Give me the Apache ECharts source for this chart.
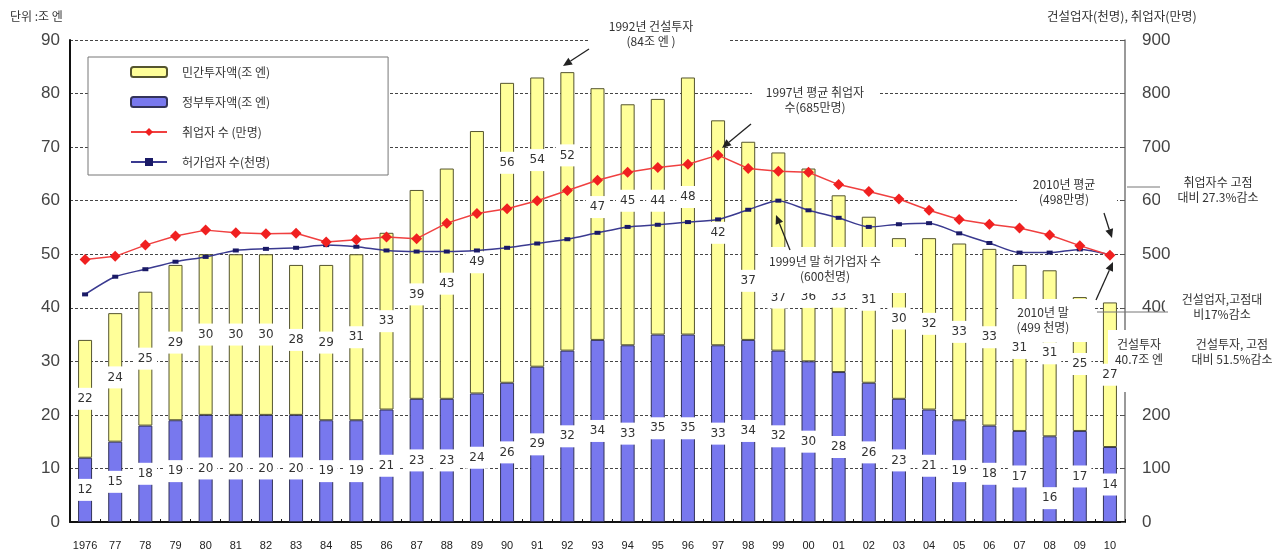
<!DOCTYPE html>
<html>
<head>
<meta charset="utf-8">
<script src="https://cdn.jsdelivr.net/npm/echarts@6/dist/echarts.min.js"></script>
<style>
  html, body { margin: 0; padding: 0; background: #fff; }
  #chart { width: 1284px; height: 553px; }
</style>
</head>
<body>
<div id="chart"></div>
<script>
// Years on the category axis (1976 … 2010)
const years = ['1976','77','78','79','80','81','82','83','84','85','86','87','88','89','90','91','92','93','94','95','96','97','98','99','00','01','02','03','04','05','06','07','08','09','10'];

// Construction investment, 조 엔
const publicInvest  = [12,15,18,19,20,20,20,20,19,19,21,23,23,24,26,29,32,34,33,35,35,33,34,32,30,28,26,23,21,19,18,17,16,17,14];
const privateInvest = [22,24,25,29,30,30,30,28,29,31,33,39,43,49,56,54,52,47,45,44,48,42,37,37,36,33,31,30,32,33,33,31,31,25,27];

// Employed persons (만명) and licensed contractors (천명), right axis
const employed   = [490,496,517,534,545,540,538,539,523,527,532,529,558,576,585,600,619,638,653,662,668,685,660,655,653,630,617,603,582,565,556,549,536,516,498];
const contractors = [425,458,472,486,495,507,510,512,517,514,507,505,505,507,512,520,528,540,551,555,560,565,583,600,582,568,551,556,558,539,521,503,503,509,499];

// Axis tick values
const leftTicks  = { min: 0, max: 90, step: 10 };
const rightTicks = { min: 0, max: 900, step: 100 };

// Series names (legend)
const names = ['민간투자액(조 엔)', '정부투자액(조 엔)', '취업자 수 (만명)', '허가업자 수(천명)'];

// Label nudges (px) for value labels that sit away from the segment centre
const privateLabelShift = { '90': -70, '91': -62, '92': -56, '93': -7, '94': -24, '95': -16, '96': -9, '98': 40, '99': 46, '00': 32, '01': 13 };
const publicLabelShift  = { '08': 19 };

const NUM_FONT = 'DejaVu Sans';
const KR_FONT = '"Noto Sans CJK KR", sans-serif';

const barLabel = {
  show: true,
  position: 'inside',
  color: '#333',
  fontFamily: NUM_FONT,
  fontSize: 12,
  backgroundColor: '#fff',
  padding: [5, 4]
};

function withShift(values, shifts) {
  return values.map((v, i) => {
    const s = shifts[years[i]];
    return s ? { value: v, label: { offset: [0, s] } } : v;
  });
}

function arrow(x1, y1, x2, y2) {
  const a = Math.atan2(y2 - y1, x2 - x1);
  const L = 9, W = 4;
  const bx = x2 - L * Math.cos(a), by = y2 - L * Math.sin(a);
  const px = -Math.sin(a) * W, py = Math.cos(a) * W;
  return [
    { type: 'line', z: 130, shape: { x1, y1, x2: bx, y2: by }, style: { stroke: '#222', lineWidth: 1.3 } },
    { type: 'polygon', z: 130, shape: { points: [[x2, y2], [bx + px, by + py], [bx - px, by - py]] }, style: { fill: '#222' } }
  ];
}

function whiteBox(x, y, w, h) {
  return { type: 'rect', z: 110, shape: { x, y, width: w, height: h }, style: { fill: '#fff' } };
}

function note(x, y, text, size) {
  return {
    type: 'text', z: 120, x, y,
    style: {
      text, fill: '#333', font: (size || 12) + 'px ' + KR_FONT,
      align: 'center', verticalAlign: 'middle',
      textAlign: 'center', textVerticalAlign: 'middle', lineHeight: 15
    }
  };
}

const chart = echarts.init(document.getElementById('chart'), null, { renderer: 'canvas' });

const graphics = [
  // white patches behind the call-outs
  whiteBox(590, 15, 140, 36),
  whiteBox(752, 84, 128, 32),
  whiteBox(758, 247, 157, 46),
  whiteBox(1017, 176, 100, 32),
  whiteBox(1000, 299, 95, 43),
  whiteBox(1108, 330, 12, 36),
  whiteBox(1120, 330, 56, 62),
  whiteBox(1160, 172, 118, 36),
  whiteBox(1165, 290, 112, 34),
  whiteBox(1180, 335, 100, 36),

  note(651, 34, '1992년 건설투자\n(84조 엔 )'),
  note(815, 100, '1997년 평균 취업자\n수(685만명)'),
  note(825, 269, '1999년 말 허가업자 수\n(600천명)'),
  note(1064, 192, '2010년 평균\n(498만명)'),
  note(1043, 320, '2010년 말\n(499 천명)'),
  note(1139, 352, '건설투자\n40.7조 엔'),
  note(1218, 190, '취업자수 고점\n대비 27.3%감소'),
  note(1222, 307, '건설업자,고점대\n비17%감소'),
  note(1232, 352, '건설투자, 고점\n대비 51.5%감소'),

  // leader lines to the right-hand notes
  { type: 'line', z: 125, shape: { x1: 1127, y1: 187, x2: 1160, y2: 187 }, style: { stroke: '#777', lineWidth: 1 } },
  { type: 'line', z: 125, shape: { x1: 1097, y1: 312, x2: 1168, y2: 312 }, style: { stroke: '#777', lineWidth: 1 } },

  ...arrow(589, 49, 563, 66),
  ...arrow(751, 124, 722, 148),
  ...arrow(790, 250, 776, 215),
  ...arrow(1104, 213, 1112, 238),
  ...arrow(1096, 300, 1113, 262),

  // axis unit captions
  { type: 'text', z: 120, left: 10, top: 10, style: { text: '단위 :조 엔', fill: '#333', font: '12px ' + KR_FONT } },
  { type: 'text', z: 120, left: 1047, top: 10, style: { text: '건설업자(천명), 취업자(만명)', fill: '#333', font: '12.5px ' + KR_FONT } }
];

chart.setOption({
  animation: false,
  backgroundColor: '#fff',
  grid: { left: 70, right: 159, top: 40, bottom: 31, containLabel: false },
  legend: {
    data: names,
    orient: 'vertical',
    left: 88, top: 57,
    padding: [9, 118, 7, 42],
    itemGap: 18,
    itemWidth: 36, itemHeight: 10,
    borderColor: '#777', borderWidth: 1,
    backgroundColor: '#fff',
    z: 50,
    textStyle: { color: '#333', fontSize: 12, fontFamily: KR_FONT, padding: [0, 0, 0, 10] }
  },
  xAxis: {
    type: 'category',
    data: years,
    axisLine: { lineStyle: { color: '#111', width: 2 } },
    axisTick: { show: true, inside: true, length: 3, lineStyle: { color: '#111' } },
    axisLabel: { interval: 0, color: '#222', fontSize: 11, fontFamily: 'Liberation Sans', margin: 18 }
  },
  yAxis: [
    {
      type: 'value', min: leftTicks.min, max: leftTicks.max, interval: leftTicks.step,
      axisLine: { show: true, lineStyle: { color: '#111', width: 2 } },
      axisTick: { show: false },
      axisLabel: { color: '#444', fontSize: 17, fontFamily: 'Liberation Sans', margin: 10 },
      splitLine: { show: true, lineStyle: { color: '#444', width: 1, type: [3, 2] } }
    },
    {
      type: 'value', min: rightTicks.min, max: rightTicks.max, interval: rightTicks.step,
      position: 'right',
      axisLine: { show: true, lineStyle: { color: '#777', width: 1.5 } },
      axisTick: { show: true, inside: true, length: 4, lineStyle: { color: '#555' } },
      axisLabel: { color: '#444', fontSize: 17, fontFamily: 'Liberation Sans', margin: 17 },
      splitLine: { show: false }
    }
  ],
  series: [
    {
      name: names[1], type: 'bar', stack: 'inv', barWidth: 14, yAxisIndex: 0,
      itemStyle: { color: '#7878EE', borderColor: '#33335a', borderWidth: 1 },
      label: barLabel,
      data: withShift(publicInvest, publicLabelShift), z: 2
    },
    {
      name: names[0], type: 'bar', stack: 'inv', barWidth: 14, yAxisIndex: 0,
      itemStyle: { color: '#FFFF99', borderColor: '#55552f', borderWidth: 1 },
      label: barLabel,
      data: withShift(privateInvest, privateLabelShift), z: 2
    },
    {
      name: names[2], type: 'line', yAxisIndex: 1,
      symbol: 'diamond', symbolSize: 11,
      lineStyle: { color: '#F04040', width: 1.5 },
      itemStyle: { color: '#F02020' },
      data: employed, z: 5
    },
    {
      name: names[3], type: 'line', yAxisIndex: 1, smooth: 0.25,
      symbol: 'rect', symbolSize: [6, 4],
      lineStyle: { color: '#3a3a90', width: 1.5 },
      itemStyle: { color: '#1a1a66' },
      data: contractors, z: 4
    }
  ],
  graphic: graphics
});
</script>
</body>
</html>
